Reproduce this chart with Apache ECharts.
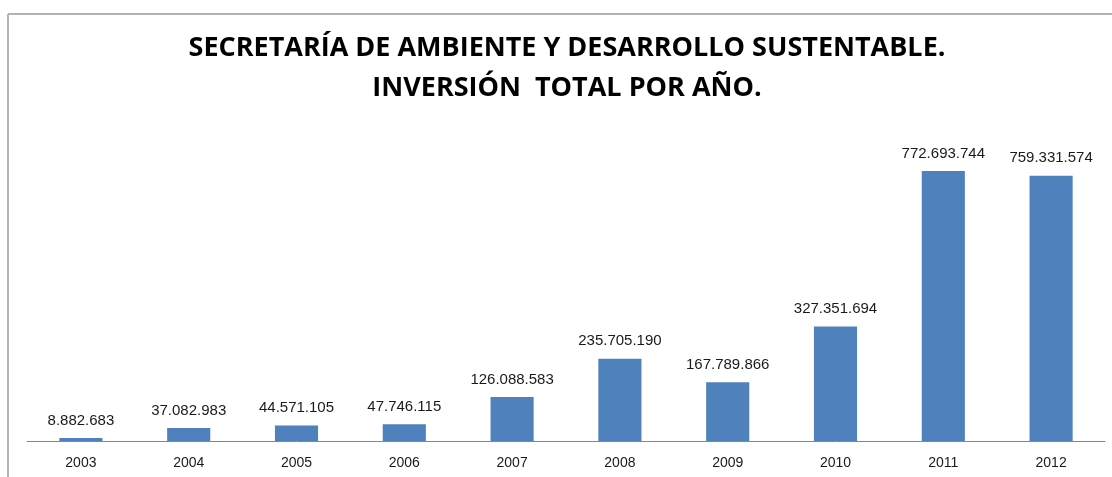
<!DOCTYPE html>
<html>
<head>
<meta charset="utf-8">
<script src="https://cdn.jsdelivr.net/npm/echarts@6/dist/echarts.min.js"></script>
<style>
html,body{margin:0;padding:0;background:#fff;}
#chart{width:1112px;height:477px;}
</style>
</head>
<body>
<div id="chart"></div>
<script>
const years = ['2003','2004','2005','2006','2007','2008','2009','2010','2011','2012'];
const inversion = [8882683, 37082983, 44571105, 47746115, 126088583, 235705190, 167789866, 327351694, 772693744, 759331574];
const titleLines = ['SECRETARÍA DE AMBIENTE Y DESARROLLO SUSTENTABLE.', 'INVERSIÓN  TOTAL POR AÑO.'];

function fmt(v){
  return String(v).replace(/\B(?=(\d{3})+(?!\d))/g, '.');
}

const chart = echarts.init(document.getElementById('chart'), null, {renderer:'canvas'});
chart.setOption({
  animation:false,
  backgroundColor:'#ffffff',
  title:{
    text: titleLines.join('\n'),
    left:567,
    top:28,
    padding:0,
    textAlign:'center',
    textStyle:{
      fontFamily:'"Open Sans",sans-serif',
      fontWeight:'bold',
      fontSize:27,
      lineHeight:40,
      color:'#000'
    }
  },
  graphic:[
    {type:'line', shape:{x1:8,y1:14,x2:1112,y2:14}, style:{stroke:'#b3b3b3', lineWidth:2}, silent:true},
    {type:'line', shape:{x1:8,y1:14,x2:8,y2:477}, style:{stroke:'#b3b3b3', lineWidth:2}, silent:true}
  ],
  grid:{left:27, right:7, top:126.5, bottom:36, containLabel:false},
  xAxis:{
    type:'category',
    data:years,
    axisLine:{lineStyle:{color:'#868686', width:1}},
    axisTick:{show:false},
    axisLabel:{margin:15, fontSize:14, color:'#1a1a1a', fontFamily:'"Liberation Sans",sans-serif'}
  },
  yAxis:{
    type:'value', min:0, max:900000000, show:false, splitLine:{show:false}
  },
  series:[{
    type:'bar',
    data:inversion,
    barWidth:'40%',
    itemStyle:{color:'#4F81BD'},
    label:{
      show:true, position:'top', distance:10,
      fontSize:15, color:'#1a1a1a', fontFamily:'"Liberation Sans",sans-serif',
      formatter:p=>fmt(p.value)
    }
  }]
});
</script>
</body>
</html>
